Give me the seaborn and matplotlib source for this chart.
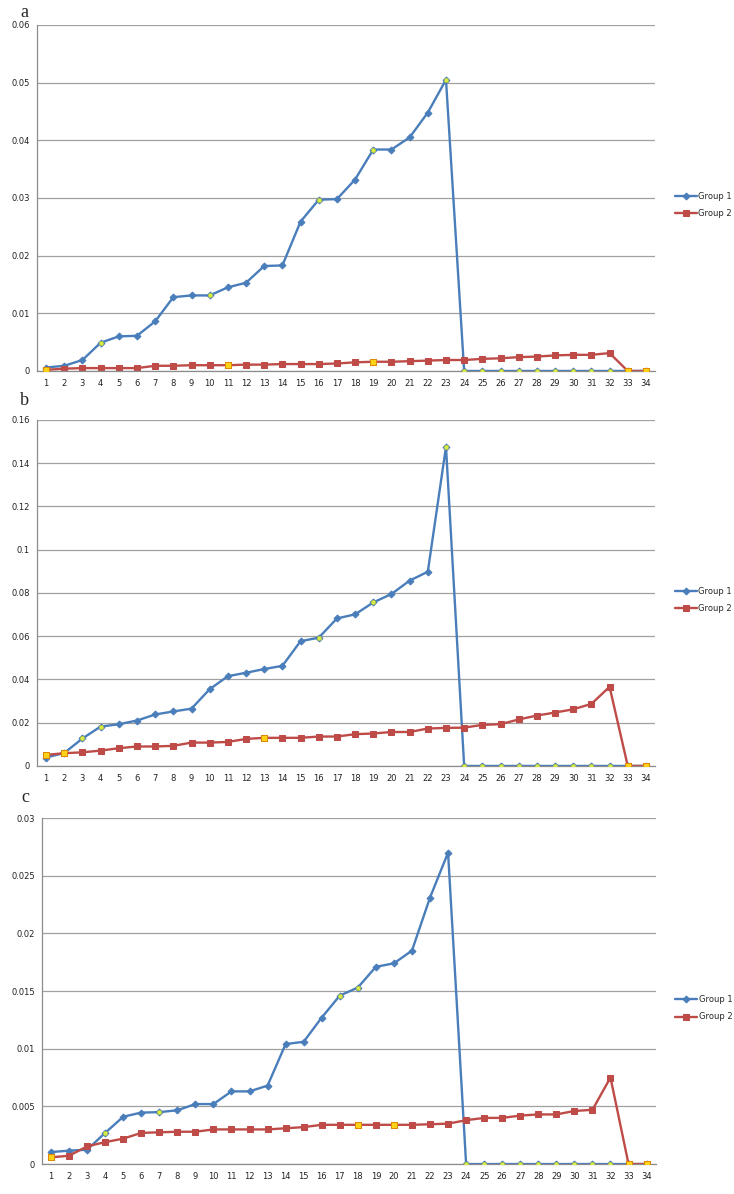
import pandas as pd
import seaborn as sns
import matplotlib.pyplot as plt
from matplotlib.ticker import FuncFormatter

# x categories (1..34)
steps = list(range(1, 35))

# panel a
a_group1 = [0.0006, 0.0009, 0.0019, 0.0049, 0.0060, 0.0061, 0.0086, 0.0128, 0.0131, 0.0131,
            0.0145, 0.0153, 0.0182, 0.0183, 0.0259, 0.0297, 0.0298, 0.0332, 0.0384, 0.0384,
            0.0405, 0.0448, 0.0505, 0, 0, 0, 0, 0, 0, 0, 0, 0, 0, 0]
a_group2 = [0.0002, 0.0004, 0.0005, 0.0005, 0.0005, 0.0005, 0.0009, 0.0009, 0.0010, 0.0010,
            0.0010, 0.0011, 0.0011, 0.0012, 0.0012, 0.0012, 0.0013, 0.0015, 0.0016, 0.0016,
            0.0017, 0.0018, 0.0019, 0.0019, 0.0021, 0.0022, 0.0024, 0.0025, 0.0027, 0.0028,
            0.0028, 0.0031, 0, 0]
a_mark1 = [4, 10, 16, 19, 23, 24, 25, 26, 27, 28, 29, 30, 31, 32]
a_mark2 = [1, 11, 19, 33, 34]

# panel b
b_group1 = [0.0039, 0.0060, 0.0127, 0.0182, 0.0193, 0.0210, 0.0238, 0.0252, 0.0265, 0.0355,
            0.0415, 0.0431, 0.0448, 0.0463, 0.0577, 0.0593, 0.0682, 0.0701, 0.0756, 0.0795,
            0.0857, 0.0898, 0.1476, 0, 0, 0, 0, 0, 0, 0, 0, 0, 0, 0]
b_group2 = [0.0051, 0.0059, 0.0063, 0.0071, 0.0082, 0.0090, 0.0090, 0.0093, 0.0108, 0.0108,
            0.0111, 0.0125, 0.0130, 0.0130, 0.0130, 0.0136, 0.0136, 0.0147, 0.0150, 0.0157,
            0.0157, 0.0173, 0.0176, 0.0177, 0.0190, 0.0193, 0.0215, 0.0233, 0.0247, 0.0262,
            0.0287, 0.0366, 0, 0]
b_mark1 = [3, 4, 16, 19, 23, 24, 25, 26, 27, 28, 29, 30, 31, 32]
b_mark2 = [1, 2, 13, 33, 34]

# panel c
c_group1 = [0.00104, 0.00116, 0.00124, 0.0027, 0.0041, 0.00446, 0.0045, 0.00466, 0.0052, 0.0052,
            0.0063, 0.0063, 0.0068, 0.0104, 0.0106, 0.0127, 0.0146, 0.0153, 0.0171, 0.0174,
            0.0185, 0.0231, 0.0270, 0, 0, 0, 0, 0, 0, 0, 0, 0, 0, 0]
c_group2 = [0.00058, 0.00072, 0.00153, 0.0019, 0.0022, 0.0027, 0.00275, 0.0028, 0.0028, 0.0030,
            0.0030, 0.0030, 0.0030, 0.0031, 0.0032, 0.0034, 0.0034, 0.0034, 0.0034, 0.0034,
            0.0034, 0.00345, 0.0035, 0.0038, 0.0040, 0.0040, 0.0042, 0.0043, 0.0043, 0.0046,
            0.0047, 0.0075, 0, 0]
c_mark1 = [4, 7, 17, 18, 24, 25, 26, 27, 28, 29, 30, 31, 32]
c_mark2 = [1, 18, 20, 33, 34]

# letter, series, highlighted points, y max, y step, axes box, legend y, letter position
panels = [
    ("a", a_group1, a_group2, a_mark1, a_mark2, 0.06, 0.01,
     [0.0504, 0.6893, 0.842, 0.2898], 0.48, (-0.027, 1.012)),
    ("b", b_group1, b_group2, b_mark1, b_mark2, 0.16, 0.02,
     [0.0504, 0.3585, 0.842, 0.2898], 0.48, (-0.027, 1.032)),
    ("c", c_group1, c_group2, c_mark1, c_mark2, 0.03, 0.005,
     [0.0572, 0.0251, 0.836, 0.2898], 0.45, (-0.033, 1.036)),
]

blue = "#4a7ebb"
red = "#be4b48"

sns.set_style("white")
plt.rcParams["font.family"] = ["DejaVu Sans"]

fig = plt.figure(figsize=(7.34, 11.94), dpi=100)

for letter, g1, g2, m1, m2, ymax, step, pos, leg_y, lpos in panels:
    ax = fig.add_axes(pos)
    df = pd.DataFrame({"step": steps, "Group 1": g1, "Group 2": g2})

    sns.lineplot(data=df, x="step", y="Group 1", ax=ax, color=blue, lw=1.7,
                 marker="D", markersize=3.5, markeredgecolor=blue, label="Group 1")
    sns.lineplot(data=df, x="step", y="Group 2", ax=ax, color=red, lw=1.7,
                 marker="s", markersize=4.5, markeredgecolor=red, label="Group 2")

    # highlighted points
    h1 = df[df["step"].isin(m1)]
    h2 = df[df["step"].isin(m2)]
    ax.plot(h1["step"], h1["Group 1"], ls="none", marker="o", ms=3,
            mfc="#d8ec4a", mec="#b8cc30", mew=0.5, zorder=5)
    ax.plot(h2["step"], h2["Group 2"], ls="none", marker="s", ms=4.5,
            mfc="#ffd21a", mec="#e08a00", mew=0.7, zorder=5)

    ax.set_xlim(0.5, 34.5)
    ax.set_ylim(0, ymax)
    ax.set_xticks(steps)
    ax.set_yticks([i * step for i in range(int(round(ymax / step)) + 1)])
    ax.yaxis.set_major_formatter(FuncFormatter(lambda v, p: "0" if abs(v) < 1e-12 else f"{v:g}"))
    ax.tick_params(axis="both", labelsize=6, length=0, colors="#222222")
    ax.tick_params(axis="x", pad=6)
    ax.tick_params(axis="y", pad=5)
    ax.grid(axis="y", color="#a0a0a0", lw=0.9)
    ax.set_axisbelow(True)
    ax.set_xlabel("")
    ax.set_ylabel("")
    for side in ["top", "right"]:
        ax.spines[side].set_visible(False)
    for side in ["left", "bottom"]:
        ax.spines[side].set_color("#8c8c8c")
        ax.spines[side].set_linewidth(0.9)

    ax.legend(loc="center left", bbox_to_anchor=(1.02, leg_y), frameon=False,
              fontsize=6, handlelength=2.6, handletextpad=0.2, labelspacing=1.0)

    ax.text(lpos[0], lpos[1], letter, transform=ax.transAxes, fontsize=13,
            family="Liberation Serif", va="bottom", ha="left")

fig.savefig("out.png", dpi=100)
